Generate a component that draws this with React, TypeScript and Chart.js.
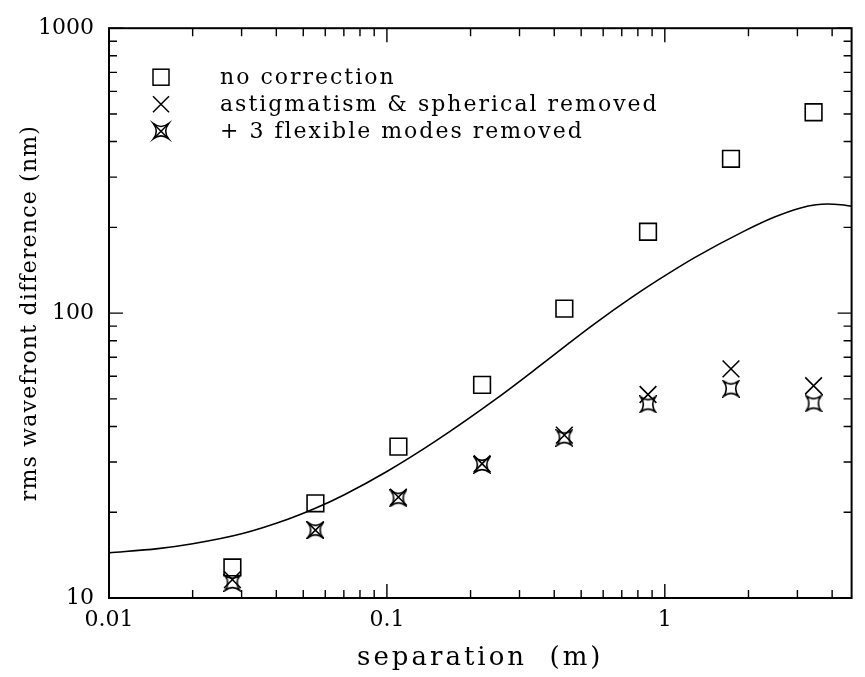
import React, { useEffect, useRef } from "react";
import { Chart, registerables } from "chart.js";

Chart.register(...registerables);

// ---- data ----
const separation = [0.0278, 0.0553, 0.11, 0.22, 0.435, 0.87, 1.73, 3.43];
const noCorrection = [12.8, 21.5, 34, 56, 103.7, 193, 348, 507];
const astigSpherical = [11.6, 17.3, 22.6, 29.6, 37.3, 51.8, 63.7, 55.6];
const flexibleModes = [11.3, 17.3, 22.4, 29.3, 36.5, 47.8, 54.3, 48.2];

const curveSeparation = [0.01, 0.015, 0.02, 0.03, 0.044, 0.055, 0.07, 0.1, 0.15, 0.25, 0.35, 0.45, 0.56, 0.76, 0.95, 1.28, 1.93, 2.47, 3.08, 3.5, 3.85, 4.3, 4.7];
const curveRms = [14.4, 14.9, 15.5, 16.8, 18.9, 20.6, 23.0, 27.8, 35.6, 50.4, 64.6, 78.2, 91.9, 113.5, 131, 156.6, 194, 217, 234, 240, 241.5, 240, 237];

const xTickValues = [0.01, 0.1, 1];
const yTickValues = [10, 100, 1000];
const xMinorTicks = [0.02, 0.03, 0.04, 0.05, 0.06, 0.07, 0.08, 0.09, 0.2, 0.3, 0.4, 0.5, 0.6, 0.7, 0.8, 0.9, 2, 3, 4];
const yMinorTicks = [20, 30, 40, 50, 60, 70, 80, 90, 200, 300, 400, 500, 600, 700, 800, 900];

const legendLabels = ["no correction", "astigmatism & spherical removed", "+ 3 flexible modes removed"];
const xTitle = "separation  (m)";
const yTitle = "rms wavefront difference (nm)";

const FONT = "'DejaVu Serif', serif";

function drawStarPath(ctx: CanvasRenderingContext2D, cx: number, cy: number, h: number) {
  const k = 0.25 * h;
  ctx.beginPath();
  ctx.moveTo(cx - h, cy - h);
  ctx.quadraticCurveTo(cx, cy - k, cx + h, cy - h);
  ctx.quadraticCurveTo(cx + k, cy, cx + h, cy + h);
  ctx.quadraticCurveTo(cx, cy + k, cx - h, cy + h);
  ctx.quadraticCurveTo(cx - k, cy, cx - h, cy - h);
  ctx.closePath();
  ctx.stroke();
}

function makeStar(size: number): HTMLCanvasElement {
  const c = document.createElement("canvas");
  c.width = size;
  c.height = size;
  const ctx = c.getContext("2d")!;
  ctx.strokeStyle = "#000";
  ctx.lineWidth = 1.6;
  drawStarPath(ctx, size / 2, size / 2, size / 2 - 1.5);
  return c;
}

function setSpacing(ctx: any, px: number) {
  if ("letterSpacing" in ctx) ctx.letterSpacing = px + "px";
}

const framePlugin = {
  id: "frameTicks",
  afterDraw(chart: any) {
    const { ctx, chartArea } = chart;
    const { left, right, top, bottom } = chartArea;
    const xs = chart.scales.x;
    const ys = chart.scales.y;
    ctx.save();
    ctx.strokeStyle = "#000";
    ctx.lineWidth = 2;
    ctx.strokeRect(left, top, right - left, bottom - top);
    ctx.lineWidth = 1.4;
    const major = 14;
    const minor = 8;
    ctx.beginPath();
    const xt = (v: number, len: number) => {
      const px = xs.getPixelForValue(v);
      ctx.moveTo(px, bottom);
      ctx.lineTo(px, bottom - len);
      ctx.moveTo(px, top);
      ctx.lineTo(px, top + len);
    };
    const yt = (v: number, len: number) => {
      const py = ys.getPixelForValue(v);
      ctx.moveTo(left, py);
      ctx.lineTo(left + len, py);
      ctx.moveTo(right, py);
      ctx.lineTo(right - len, py);
    };
    xTickValues.forEach((v) => xt(v, major));
    xMinorTicks.forEach((v) => xt(v, minor));
    yTickValues.forEach((v) => yt(v, major));
    yMinorTicks.forEach((v) => yt(v, minor));
    ctx.stroke();

    // legend
    const symX = left + 52;
    const textX = left + 111;
    const rowY = [top + 49, top + 76, top + 103];
    ctx.fillStyle = "#000";
    ctx.font = "22px " + FONT;
    setSpacing(ctx, 2);
    ctx.textBaseline = "middle";
    ctx.textAlign = "left";
    ctx.lineWidth = 1.5;
    ctx.strokeRect(symX - 8, rowY[0] - 8, 16, 16);
    ctx.beginPath();
    ctx.moveTo(symX - 8, rowY[1] - 8);
    ctx.lineTo(symX + 8, rowY[1] + 8);
    ctx.moveTo(symX + 8, rowY[1] - 8);
    ctx.lineTo(symX - 8, rowY[1] + 8);
    ctx.stroke();
    drawStarPath(ctx, symX, rowY[2], 7.5);
    ctx.beginPath();
    ctx.moveTo(symX - 7.5, rowY[2] - 7.5);
    ctx.lineTo(symX + 7.5, rowY[2] + 7.5);
    ctx.moveTo(symX + 7.5, rowY[2] - 7.5);
    ctx.lineTo(symX - 7.5, rowY[2] + 7.5);
    ctx.stroke();
    legendLabels.forEach((t, i) => ctx.fillText(t, textX, rowY[i] + 1));

    // axis titles
    ctx.textAlign = "center";
    ctx.font = "26px " + FONT;
    setSpacing(ctx, 3);
    ctx.fillText(xTitle, (left + right) / 2, 658);
    ctx.translate(30, (top + bottom) / 2);
    ctx.rotate(-Math.PI / 2);
    ctx.font = "22px " + FONT;
    setSpacing(ctx, 1.2);
    ctx.fillText(yTitle, 0, 0);
    ctx.restore();
  },
};

export default function App() {
  const ref = useRef<HTMLCanvasElement>(null);
  useEffect(() => {
    const canvas = ref.current!;
    const star = makeStar(18);
    const pts = (ys: number[]) => separation.map((x, i) => ({ x, y: ys[i] }));
    const chart = new Chart(canvas, {
      type: "scatter",
      data: {
        datasets: [
          {
            label: "model",
            data: curveSeparation.map((x, i) => ({ x, y: curveRms[i] })),
            showLine: true,
            pointRadius: 0,
            borderColor: "#000",
            borderWidth: 1.6,
            cubicInterpolationMode: "monotone",
            fill: false,
          } as any,
          {
            label: legendLabels[0],
            data: pts(noCorrection),
            pointStyle: "rect",
            pointRadius: 11.8,
            borderColor: "#000",
            backgroundColor: "rgba(0,0,0,0)",
            pointBorderWidth: 1.6,
            showLine: false,
          },
          {
            label: legendLabels[1],
            data: pts(astigSpherical),
            pointStyle: "crossRot",
            pointRadius: 11.8,
            borderColor: "#000",
            pointBorderWidth: 1.6,
            showLine: false,
          },
          {
            label: legendLabels[2],
            data: pts(flexibleModes),
            pointStyle: star as any,
            borderColor: "#000",
            showLine: false,
          },
        ],
      },
      options: {
        responsive: false,
        animation: false,
        layout: { padding: { top: 21, right: 10, left: 0, bottom: 0 } },
        plugins: { legend: { display: false }, tooltip: { enabled: false } },
        scales: {
          x: {
            type: "logarithmic",
            min: 0.01,
            max: 4.7,
            grid: { display: false, drawTicks: false },
            border: { display: false },
            afterBuildTicks: (s: any) => {
              s.ticks = xTickValues.map((v) => ({ value: v }));
            },
            afterFit: (s: any) => {
              s.height = 79;
            },
            ticks: {
              callback: (v: any) => String(v),
              font: { family: FONT, size: 22 },
              color: "#000",
              padding: 9,
              maxRotation: 0,
              autoSkip: false,
            },
          },
          y: {
            type: "logarithmic",
            min: 10,
            max: 1000,
            grid: { display: false, drawTicks: false },
            border: { display: false },
            afterBuildTicks: (s: any) => {
              s.ticks = yTickValues.map((v) => ({ value: v }));
            },
            afterFit: (s: any) => {
              s.width = 109;
            },
            ticks: {
              callback: (v: any) => String(v),
              font: { family: FONT, size: 22 },
              color: "#000",
              padding: 15,
              autoSkip: false,
            },
          },
        },
      },
      plugins: [framePlugin],
    });
    return () => chart.destroy();
  }, []);
  return (
    <div style={{ position: "absolute", left: 0, top: 0, width: 865, height: 677, background: "#fff" }}>
      <canvas ref={ref} width={865} height={677} style={{ width: 865, height: 677, display: "block" }} />
    </div>
  );
}
